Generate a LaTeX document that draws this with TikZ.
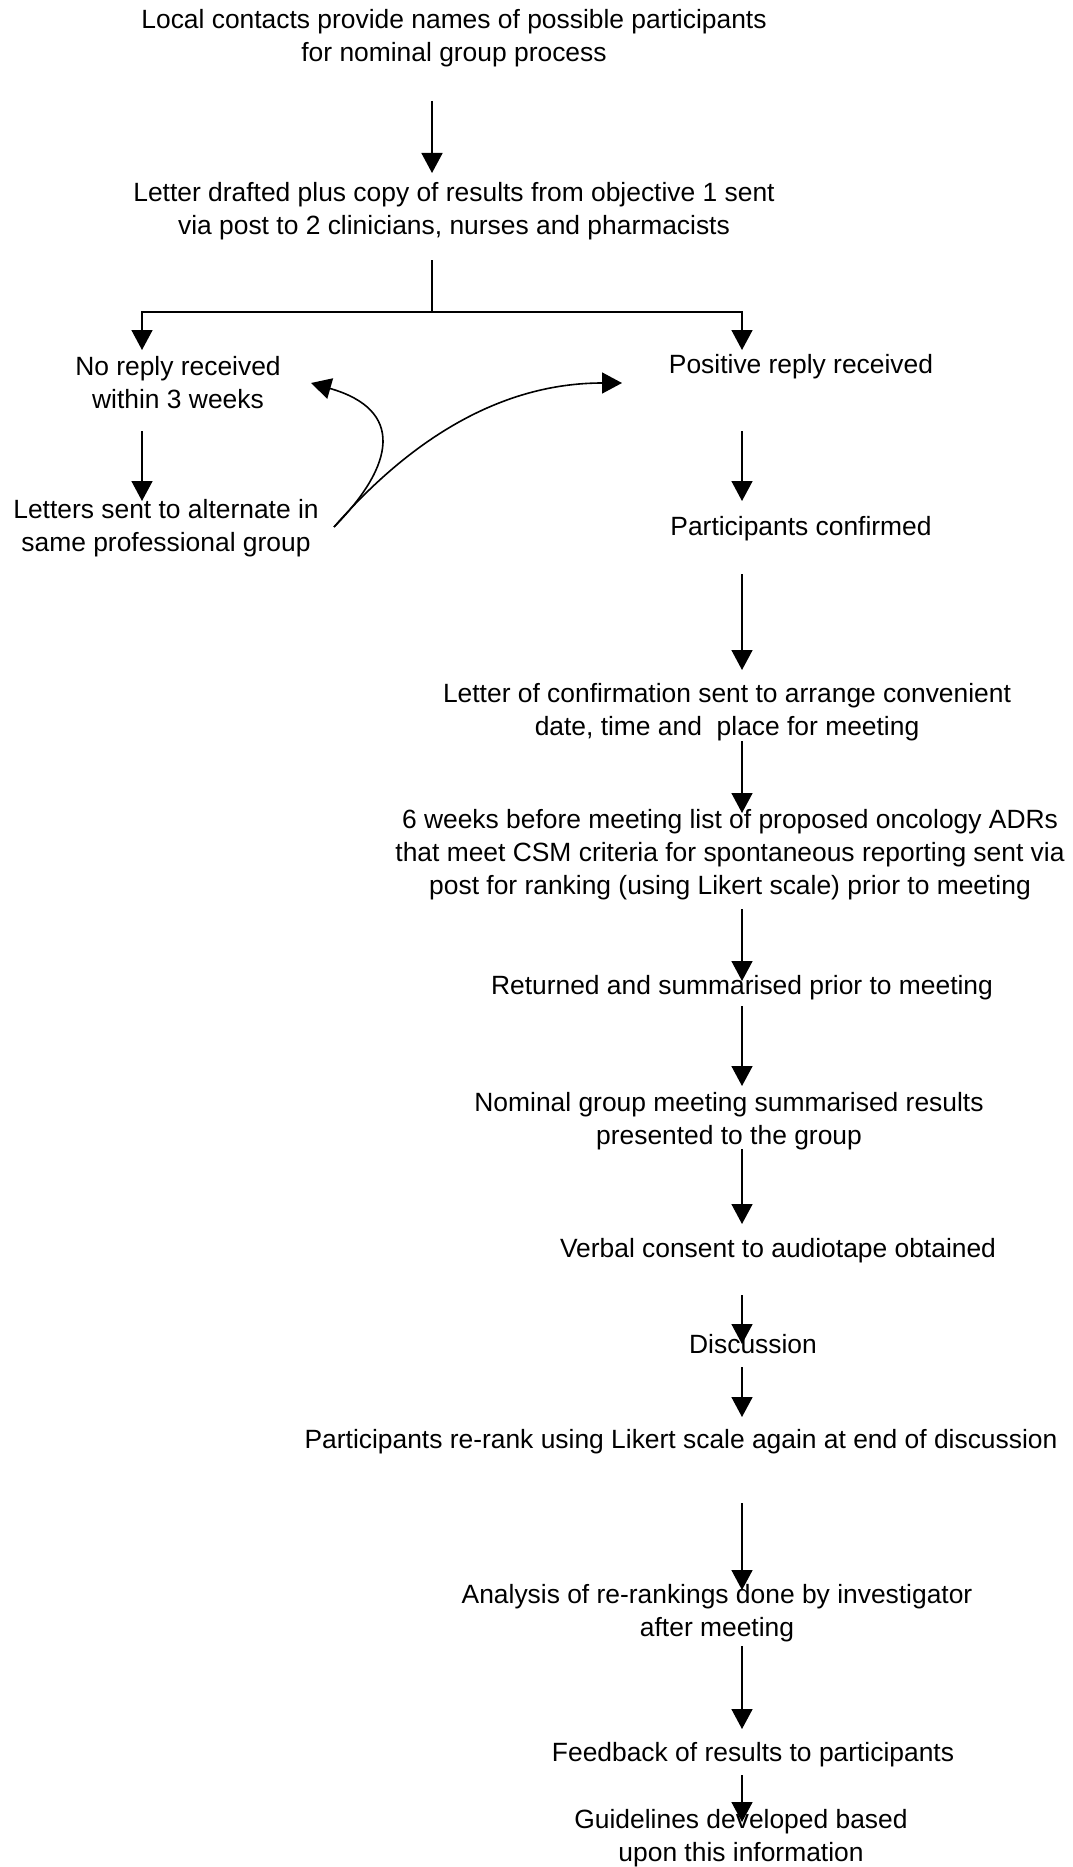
\documentclass[tikz,border=0pt]{standalone}
\usepackage{fontspec}
\setmainfont{Liberation Sans}
\usetikzlibrary{arrows.meta,calc}

\begin{document}
\begin{tikzpicture}[x=0.5pt,y=-0.5pt,
  txt/.style={align=center,inner sep=0pt,font=\fontsize{13.2}{16.5}\selectfont},
  arr/.style={-{Triangle[length=10pt,width=10.5pt]},line width=0.8pt}]
  \useasboundingbox (0,0) rectangle (1072,1867);
  \coordinate (colL) at (142,0);
  \coordinate (colM) at (432,0);
  \coordinate (colR) at (742,0);

  \node[txt] (local) at (454,38.5)
    {Local contacts provide names of possible participants\\for nominal group process};
  \node[txt] (drafted) at (454,211.5)
    {Letter drafted plus copy of results from objective 1 sent\\via post to 2 clinicians, nurses and pharmacists};
  \node[txt] (noreply) at (178,383) {No reply received\\within 3 weeks};
  \node[txt] (positive) at (801,367) {Positive reply received};
  \node[txt] (letters) at (166,528) {Letters sent to alternate in\\same professional group};
  \node[txt] (confirmed) at (801,529) {Participants confirmed};
  \node[txt] (lconf) at (727,712)
    {Letter of confirmation sent to arrange convenient\\date, time and~ place for meeting};
  \node[txt] (weeks) at (730,855)
    {6 weeks before meeting list of proposed oncology ADRs\\that meet CSM criteria for spontaneous reporting sent via\\post for ranking (using Likert scale) prior to meeting};
  \node[txt] (returned) at (742,988) {Returned and summarised prior to meeting};
  \node[txt] (nominal) at (729,1121)
    {Nominal group meeting summarised results\\presented to the group};
  \node[txt] (verbal) at (778,1251) {Verbal consent to audiotape obtained};
  \node[txt] (discuss) at (753,1344) {Discussion};
  \node[txt] (rerank) at (681,1442)
    {Participants re-rank using Likert scale again at end of discussion};
  \node[txt] (analysis) at (717,1613)
    {Analysis of re-rankings done by investigator\\after meeting};
  \node[txt] (feedback) at (753,1755) {Feedback of results to participants};
  \node[txt] (guide) at (741,1838)
    {Guidelines developed based\\upon this information};

  \draw[arr] ($(colM |- local)+(0,62.5)$) -- ($(colM |- drafted)+(0,-38.5)$);
  \coordinate (split) at ($(colM |- drafted)+(0,100.5)$);
  \draw[line width=0.8pt] ($(colM |- drafted)+(0,48.5)$) -- (split);
  \draw[arr] (split) -| ($(colL |- noreply)+(0,-33)$);
  \draw[arr] (split) -| ($(colR |- positive)+(0,-17)$);
  \draw[arr] ($(colL |- noreply)+(0,48)$) -- ($(colL |- letters)+(0,-27)$);
  \draw[arr] ($(colR |- positive)+(0,64)$) -- ($(colR |- confirmed)+(0,-28)$);

  \coordinate (fork) at ($(letters)+(168,-1)$);
  \draw[arr] (fork) .. controls ($(fork)+(61,-62)$) and ($(fork)+(71,-117)$)
    .. ($(noreply)+(133,0)$);
  \draw[arr] (fork) .. controls ($(fork)+(76,-87)$) and ($(fork)+(166,-144)$)
    .. ($(positive)+(-179,16)$);

  \draw[arr] ($(colR |- confirmed)+(0,45)$) -- ($(colR |- lconf)+(0,-42)$);
  \draw[arr] ($(colR |- lconf)+(0,29)$) -- ($(colR |- weeks)+(0,-42)$);
  \draw[arr] ($(colR |- weeks)+(0,54)$) -- ($(colR |- returned)+(0,-7)$);
  \draw[arr] ($(colR |- returned)+(0,18)$) -- ($(colR |- nominal)+(0,-35)$);
  \draw[arr] ($(colR |- nominal)+(0,28)$) -- ($(colR |- verbal)+(0,-27)$);
  \draw[arr] ($(colR |- verbal)+(0,44)$) -- (colR |- discuss);
  \draw[arr] ($(colR |- discuss)+(0,23)$) -- ($(colR |- rerank)+(0,-25)$);
  \draw[arr] ($(colR |- rerank)+(0,61)$) -- ($(colR |- analysis)+(0,-23)$);
  \draw[arr] ($(colR |- analysis)+(0,33)$) -- ($(colR |- feedback)+(0,-26)$);
  \draw[arr] ($(colR |- feedback)+(0,20)$) -- ($(colR |- guide)+(0,-16)$);
\end{tikzpicture}
\end{document}
